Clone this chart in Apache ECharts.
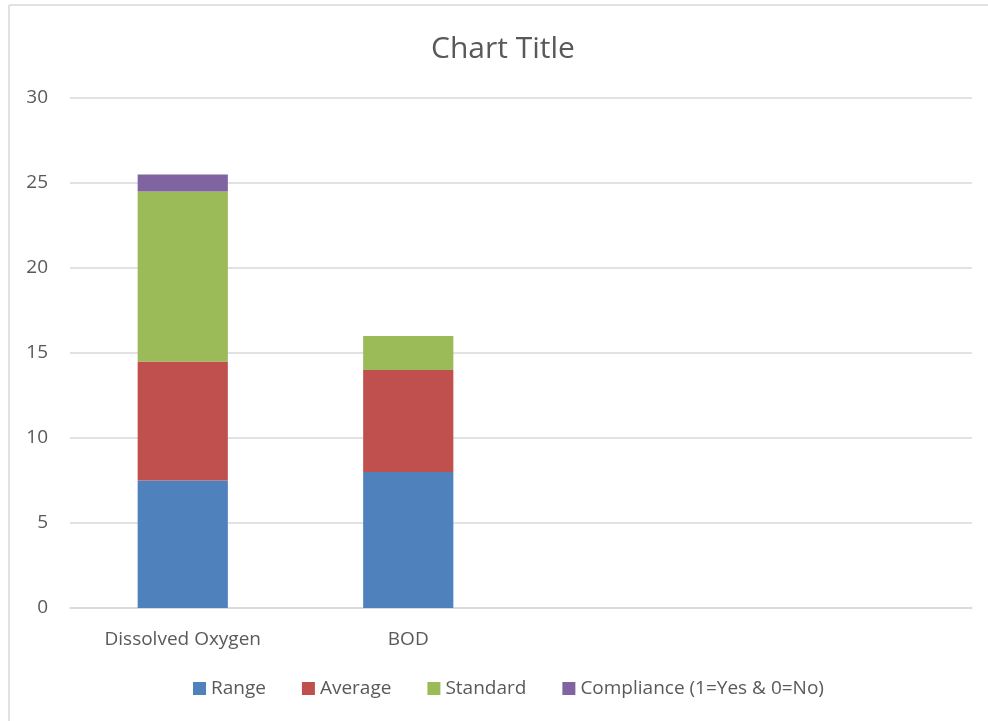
<!DOCTYPE html>
<html>
<head>
<meta charset="utf-8">
<script src="https://cdn.jsdelivr.net/npm/echarts@6/dist/echarts.min.js"></script>
<style>
  html, body { margin: 0; padding: 0; background: #fff; }
  #chart { width: 988px; height: 721px; }
</style>
</head>
<body>
<div id="chart"></div>
<script>
// Parameters and their stacked components
var categories = ['Dissolved Oxygen', 'BOD', '', ''];
var rangeValues = [7.5, 8, null, null];
var averageValues = [7, 6, null, null];
var standardValues = [10, 2, null, null];
var complianceValues = [1, 0, null, null];
var yTicks = { min: 0, max: 30, interval: 5 };

var seriesNames = ['Range', 'Average', 'Standard', 'Compliance (1=Yes & 0=No)'];
var seriesColors = ['#4f81bd', '#c0504d', '#9bbb59', '#8064a2'];
var seriesData = [rangeValues, averageValues, standardValues, complianceValues];

var font = '"Open Sans", "Noto Sans", sans-serif';
var chart = echarts.init(document.getElementById('chart'));

chart.setOption({
  animation: false,
  backgroundColor: '#ffffff',
  title: {
    text: 'Chart Title',
    left: 426,
    top: 29,
    textStyle: { fontFamily: font, fontSize: 30, fontWeight: 'normal', color: '#595959' }
  },
  legend: {
    bottom: 18,
    left: 188,
    itemWidth: 13,
    itemHeight: 13,
    itemGap: 36,
    icon: 'rect',
    textStyle: { fontFamily: font, fontSize: 19, color: '#595959' },
    data: seriesNames
  },
  grid: { left: 70, right: 16, top: 98, bottom: 113, containLabel: false },
  xAxis: {
    type: 'category',
    data: categories,
    axisLine: { show: true, lineStyle: { color: '#d9d9d9', width: 1.5 } },
    axisTick: { show: false },
    axisLabel: { fontFamily: font, fontSize: 19, color: '#595959', margin: 22 }
  },
  yAxis: {
    type: 'value',
    min: yTicks.min,
    max: yTicks.max,
    interval: yTicks.interval,
    axisLine: { show: false },
    axisTick: { show: false },
    splitLine: { lineStyle: { color: '#d9d9d9', width: 1.5 } },
    axisLabel: { fontFamily: font, fontSize: 19, color: '#595959', margin: 22 }
  },
  series: seriesNames.map(function (name, i) {
    return {
      name: name,
      type: 'bar',
      stack: 'total',
      barWidth: '40%',
      data: seriesData[i],
      itemStyle: { color: seriesColors[i] }
    };
  }),
  graphic: [
    { type: 'line', shape: { x1: 9, y1: 5, x2: 9, y2: 721 }, style: { stroke: '#d9d9d9', lineWidth: 1.5 } },
    { type: 'line', shape: { x1: 9, y1: 5, x2: 988, y2: 5 }, style: { stroke: '#d9d9d9', lineWidth: 1.5 } }
  ]
});
</script>
</body>
</html>
